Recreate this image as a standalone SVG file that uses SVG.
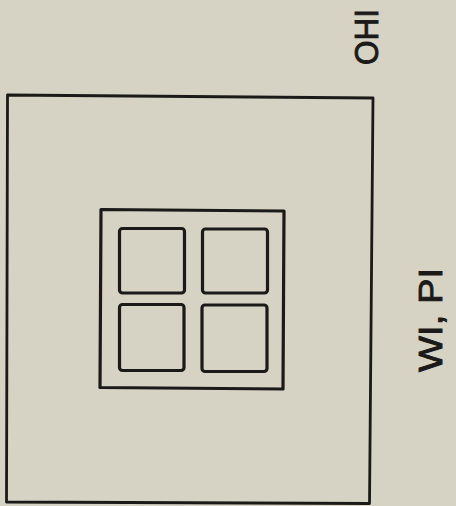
<svg xmlns="http://www.w3.org/2000/svg" width="456" height="506" viewBox="0 0 456 506">
<style>
.ln{fill:none;stroke:#1b1a18;stroke-linejoin:round}
.lbl{font-family:"Liberation Sans",Arial,sans-serif;fill:#1b1a18;stroke:#1b1a18;stroke-width:0.9}
</style>
<rect width="456" height="506" fill="#d6d2c4"/>
<g id="outer">
<path class="ln" stroke-width="2.8" d="M7.5,95 L373,98 L369.5,503.5 L6.5,502 Z"/>
</g>
<g id="frame">
<path class="ln" stroke-width="3.2" d="M101,209.5 L284,211 L283,389 L100,387.5 Z"/>
</g>
<g id="pane-tl"><rect class="ln" stroke-width="3.2" x="119.5" y="228.5" width="65" height="64.5" rx="3"/></g>
<g id="pane-tr"><rect class="ln" stroke-width="3.2" x="202.5" y="229" width="65" height="64" rx="3"/></g>
<g id="pane-bl"><rect class="ln" stroke-width="3.2" x="119.5" y="304.5" width="64.5" height="66" rx="3"/></g>
<g id="pane-br"><rect class="ln" stroke-width="3.2" x="202" y="305" width="65" height="66.5" rx="3"/></g>
<g id="label-ohi">
<text class="lbl" font-size="34" transform="translate(378,65) rotate(-90)" textLength="56" lengthAdjust="spacingAndGlyphs">OHI</text>
</g>
<g id="label-wipi">
<text class="lbl" font-size="34" transform="translate(442,372) rotate(-90)" textLength="104" lengthAdjust="spacingAndGlyphs">WI, PI</text>
</g>
<g id="connectors"></g>
</svg>
